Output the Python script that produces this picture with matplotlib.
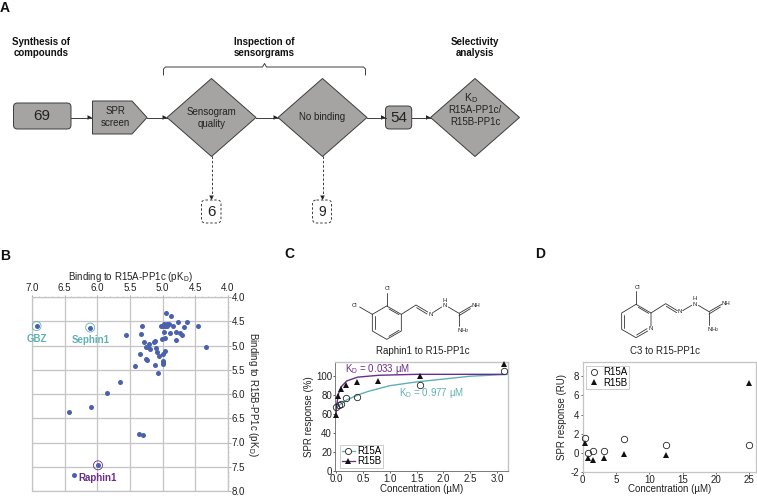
import matplotlib
matplotlib.use("Agg")
import matplotlib.pyplot as plt
from matplotlib.patches import Polygon, FancyBboxPatch
from matplotlib.lines import Line2D

plt.rcParams['font.family'] = ['Liberation Sans', 'DejaVu Sans']
plt.rcParams['mathtext.fontset'] = 'custom'
plt.rcParams['mathtext.rm'] = 'Liberation Sans'
plt.rcParams['mathtext.default'] = 'regular'

# ---- Data ----
b_r15a = [6.35, 6.43, 6.09, 5.85, 5.65, 5.36, 5.30, 5.56, 5.32, 5.33, 5.29, 5.21, 5.13, 5.12,
          5.26, 5.22, 5.19, 5.10, 5.09, 5.05, 5.35, 5.26, 5.24, 5.42, 5.11, 5.07, 4.99, 4.99,
          4.99, 4.99, 4.96, 4.95, 4.87, 4.76, 4.63, 4.46, 4.33, 4.68, 4.84, 5.03, 4.99, 4.98,
          4.93, 4.97, 4.94, 4.91, 4.98, 4.89, 4.80, 4.74, 4.71, 4.80, 5.01, 4.96]
b_r15b = [7.68, 6.37, 6.27, 5.98, 5.75, 6.83, 6.85, 4.79, 4.60, 4.77, 4.93, 4.96, 4.93, 4.91,
          5.04, 5.04, 5.07, 5.05, 5.14, 5.22, 5.18, 5.27, 5.29, 5.42, 5.40, 5.57, 5.31, 5.34,
          5.38, 5.18, 5.11, 4.33, 4.40, 4.51, 4.52, 4.60, 5.04, 4.62, 4.60, 4.60, 4.60, 4.56,
          4.56, 4.60, 4.60, 4.56, 4.72, 4.75, 4.72, 4.74, 4.79, 4.89, 4.86, 4.85]
b_hi_names = ['GBZ', 'Sephin1', 'Raphin1']
b_hi_x = [6.93, 6.11, 5.99]
b_hi_y = [4.60, 4.63, 7.47]

c_a_x = [0.0, 0.05, 0.10, 0.195, 0.39, 1.56, 3.125]
c_a_y = [68, 70, 71, 77, 78, 91, 106]
c_b_x = [0.006, 0.03, 0.098, 0.195, 0.39, 0.78, 1.56, 3.125]
c_b_y = [59, 79, 87, 91, 94, 95, 100, 113]
c_fit_a_x = [0.0, 0.05, 0.1, 0.2, 0.4, 0.6, 0.8, 1.0, 1.5, 2.0, 2.5, 3.2]
c_fit_a_y = [66, 69, 71, 75, 80, 84, 87, 90, 94, 97, 100, 102]
c_fit_b_x = [0.0, 0.01, 0.02, 0.05, 0.1, 0.2, 0.4, 0.8, 1.5, 3.1]
c_fit_b_y = [60, 66, 72, 82, 89, 95, 99, 101, 102, 102]

d_a_x = [0.39, 0.78, 1.56, 3.125, 6.25, 12.5, 25]
d_a_y = [1.5, 0.0, 0.2, 0.2, 1.4, 0.75, 0.8]
d_b_x = [0.39, 0.78, 1.56, 3.125, 6.25, 12.5, 25]
d_b_y = [1.05, -0.6, -0.75, -0.6, -0.15, -0.3, 7.3]

W, H = 757, 496
GRAY = '#a5a4a2'
DARK = '#3c3c3c'
BLUE = '#4a62ac'
CYAN = '#5fb0b5'
PURPLE = '#6b2d8b'
GRID = '#c4c4c4'
FS = 7

fig = plt.figure(figsize=(W / 100, H / 100), dpi=100)


def px_axes(l, t, r, b):
    return fig.add_axes([l / W, 1 - b / H, (r - l) / W, (b - t) / H])


ov = fig.add_axes([0, 0, 1, 1], zorder=5)
ov.set_xlim(0, W)
ov.set_ylim(H, 0)
ov.axis('off')
ov.patch.set_alpha(0)

for s, x, y in [('A', 5, 8), ('B', 5, 256), ('C', 289, 254), ('D', 540, 254)]:
    ov.text(x, y, s, fontsize=10, fontweight='bold', ha='center', va='center', color='#111111')


def diamond(cx, cy=117.5):
    ov.add_patch(Polygon([(cx - 44.5, cy), (cx, cy - 39), (cx + 44.5, cy), (cx, cy + 39)],
                         fc=GRAY, ec=DARK, lw=0.7))


def rbox(x0, y0, x1, y1, text, fs, dashed=False):
    ov.add_patch(FancyBboxPatch((x0 + 3, y0 + 3), x1 - x0 - 6, y1 - y0 - 6,
                                boxstyle='round,pad=3,rounding_size=4',
                                fc='white' if dashed else GRAY, ec=DARK, lw=0.7,
                                ls=(0, (2.5, 2)) if dashed else '-'))
    ov.text((x0 + x1) / 2, (y0 + y1) / 2, text, fontsize=fs, ha='center', va='center', color='#222222')


def arrow(x0, y0, x1, y1, dashed=False):
    ov.plot([x0, x1], [y0, y1], color=DARK, lw=0.7, ls=(0, (2.5, 2)) if dashed else '-')
    if y0 == y1:
        pts = [(x1, y1), (x1 - 4.5, y1 - 2.3), (x1 - 4.5, y1 + 2.3)]
    else:
        pts = [(x1, y1), (x1 - 2.3, y1 - 4.5), (x1 + 2.3, y1 - 4.5)]
    ov.add_patch(Polygon(pts, fc='#222222', ec='none'))


rbox(13.5, 103, 71, 129, '69', 11)
ov.add_patch(Polygon([(92.5, 101), (132, 101), (147, 117.5), (132, 134), (92.5, 134)],
                     fc=GRAY, ec=DARK, lw=0.7))
ov.text(115.5, 117, 'SPR\nscreen', fontsize=FS, ha='center', va='center', color='#222222', linespacing=1.15)
diamond(211.5)
ov.text(211.5, 118, 'Sensogram\nquality', fontsize=FS, ha='center', va='center', color='#222222', linespacing=1.15)
diamond(322.5)
ov.text(322.5, 117, 'No binding', fontsize=FS, ha='center', va='center', color='#222222')
rbox(385.5, 106, 411.7, 129, '54', 11)
diamond(475)
ov.text(471, 98, 'K$_{D}$', fontsize=FS + 0.5, ha='center', va='center', color='#222222')
ov.text(475, 116, 'R15A-PP1c/\nR15B-PP1c', fontsize=FS, ha='center', va='center', color='#222222', linespacing=1.15)
rbox(201.5, 200, 221, 223, '6', 11, dashed=True)
rbox(312.5, 200, 331.5, 223, '9', 10, dashed=True)

arrow(71, 117.5, 92, 117.5)
arrow(147, 117.5, 167, 117.5)
arrow(256, 117.5, 278, 117.5)
arrow(367, 117.5, 385.5, 117.5)
arrow(412, 117.5, 430.5, 117.5)
arrow(211.5, 156, 211.5, 200, dashed=True)
arrow(322.5, 156, 322.5, 200, dashed=True)

for x, s in [(41.5, 'Synthesis of\ncompounds'), (264.5, 'Inspection of\nsensorgrams'), (475, 'Selectivity\nanalysis')]:
    ov.text(x, 47.5, s, fontsize=FS, fontweight='bold', ha='center', va='center', color='#111111', linespacing=1.2)

ov.plot([163.5, 163.5, 165.5, 262.5, 264.5, 266.5, 363.5, 365.5, 365.5],
        [75, 69, 67, 67, 63.5, 67, 67, 69, 75], color=DARK, lw=0.7)

# ---- Panel B ----
axb = px_axes(32, 297, 228, 491)
axb.set_xlim(7.0, 4.0)
axb.set_ylim(8.0, 4.0)
axb.xaxis.tick_top()
axb.yaxis.tick_right()
axb.xaxis.set_label_position('top')
axb.yaxis.set_label_position('right')
ticks_x = [7.0, 6.5, 6.0, 5.5, 5.0, 4.5, 4.0]
ticks_y = [4.0, 4.5, 5.0, 5.5, 6.0, 6.5, 7.0, 7.5, 8.0]
axb.set_xticks(ticks_x)
axb.set_yticks(ticks_y)
axb.set_xticklabels([f'{v:.1f}' for v in ticks_x], fontsize=FS)
axb.set_yticklabels([f'{v:.1f}' for v in ticks_y], fontsize=FS)
axb.set_xticks([4 + i * 0.1 for i in range(31)], minor=True)
axb.set_yticks([4 + i * 0.1 for i in range(41)], minor=True)
axb.tick_params(which='major', length=1.8, width=0.5, color='#888888', pad=0.8, colors='#222222')
axb.tick_params(which='minor', length=1.0, width=0.4, color='#999999')
axb.grid(True, which='major', color=GRID, lw=0.9)
axb.set_axisbelow(True)
for s in axb.spines.values():
    s.set_color(GRID)
    s.set_linewidth(0.9)
axb.set_xlabel('Binding to R15A-PP1c (pK$_{D}$)', fontsize=FS, labelpad=2.5, color='#222222')
axb.set_ylabel('Binding to R15B-PP1c (pK$_{D}$)', fontsize=FS, rotation=270, labelpad=11, color='#222222')
axb.scatter(b_r15a, b_r15b, s=13, color=BLUE, lw=0, zorder=3, clip_on=False)
axb.scatter(b_hi_x, b_hi_y, s=13, color=BLUE, lw=0, zorder=3)
for x, y, c in zip(b_hi_x, b_hi_y, [CYAN, CYAN, PURPLE]):
    axb.scatter([x], [y], s=42, facecolor='none', edgecolor=c, lw=0.6, zorder=3)
for name, x, y, c in zip(b_hi_names, [37, 91, 98], [339.5, 340, 478], [CYAN, CYAN, PURPLE]):
    ov.text(x, y, name, fontsize=FS, fontweight='bold', color=c, ha='center', va='center')

# ---- Panel C ----
axc = px_axes(335.3, 362, 508, 471)
axc.set_xlim(-0.012, 3.2)
axc.set_ylim(0, 115)
axc.plot(c_fit_a_x, c_fit_a_y, color=CYAN, lw=1.0, zorder=2)
axc.plot(c_fit_b_x, c_fit_b_y, color=PURPLE, lw=1.0, zorder=2)
axc.plot(c_a_x, c_a_y, ls='none', marker='o', ms=4.6, mfc='none', mec='#222222', mew=0.6, zorder=4, clip_on=False)
axc.plot(c_b_x, c_b_y, ls='none', marker='^', ms=3.8, color='#111111', mew=0, zorder=3, clip_on=False)
axc.set_xticks([0, 0.5, 1, 1.5, 2, 2.5, 3])
axc.set_xticklabels(['0.0', '0.5', '1.0', '1.5', '2.0', '2.5', '3.0'], fontsize=FS)
axc.set_yticks([0, 20, 40, 60, 80, 100])
axc.tick_params(axis='both', labelsize=FS, length=1.6, width=0.5, pad=0.8, colors='#222222')
axc.set_xlabel('Concentration (µM)', fontsize=FS, labelpad=-0.6, color='#222222')
axc.set_ylabel('SPR response (%)', fontsize=FS, labelpad=1.5, color='#222222')
for k, s in axc.spines.items():
    s.set_color(GRID if k in ('top', 'right') else '#666666')
    s.set_linewidth(1.0 if k in ('top', 'right') else 0.6)
axc.text(0.17, 108, 'K$_{D}$ = 0.033 µM', fontsize=FS, color=PURPLE, ha='left', va='center')
axc.text(1.18, 82, 'K$_{D}$ = 0.977 µM', fontsize=FS, color=CYAN, ha='left', va='center')
handles = [Line2D([], [], color=CYAN, lw=0.9, marker='o', ms=4.4, mfc='white', mec='#222222', mew=0.6),
           Line2D([], [], color=PURPLE, lw=0.9, marker='^', ms=3.8, mfc='#111111', mec='#111111', mew=0)]
axc.legend(handles, ['R15A', 'R15B'], fontsize=FS, loc='lower left', bbox_to_anchor=(0.01, 0.0),
           borderaxespad=0.35, borderpad=0.12, labelspacing=0.05, handlelength=1.35, handletextpad=0.3,
           fancybox=False, edgecolor=GRID, framealpha=1).get_frame().set_linewidth(0.6)

# ---- Panel D ----
axd = px_axes(582.7, 361.7, 755.7, 471.7)
axd.set_xlim(0, 25.95)
axd.set_ylim(-2, 9.54)
axd.plot(d_a_x, d_a_y, ls='none', marker='o', ms=4.6, mfc='none', mec='#222222', mew=0.6, zorder=4, clip_on=False)
axd.plot(d_b_x, d_b_y, ls='none', marker='^', ms=3.8, color='#111111', mew=0, zorder=3, clip_on=False)
axd.set_xticks([0, 5, 10, 15, 20, 25])
axd.set_yticks([-2, 0, 2, 4, 6, 8])
axd.set_yticklabels(['-2', '0', '2', '4', '6', '8'])
axd.tick_params(axis='both', labelsize=FS, length=1.6, width=0.5, pad=0.8, colors='#222222')
axd.set_xlabel('Concentration (µM)', fontsize=FS, labelpad=-0.6, color='#222222')
axd.set_ylabel('SPR response (RU)', fontsize=FS, labelpad=2.5, color='#222222')
for k, s in axd.spines.items():
    s.set_color(GRID)
    s.set_linewidth(0.9)
handles_d = [Line2D([], [], ls='none', marker='o', ms=4.4, mfc='none', mec='#222222', mew=0.6),
             Line2D([], [], ls='none', marker='^', ms=3.8, color='#111111', mew=0)]
axd.legend(handles_d, ['R15A', 'R15B'], fontsize=FS, loc='upper left', bbox_to_anchor=(0.0, 0.99),
           borderaxespad=0.35, borderpad=0.12, labelspacing=0.05, handlelength=1.35, handletextpad=0.3,
           fancybox=False, edgecolor=GRID, framealpha=1).get_frame().set_linewidth(0.6)


# ---- Structures ----
def seg(ox, oy, pts, lw=0.6, color='#333333'):
    ov.plot([ox + p[0] / 3 for p in pts], [oy + p[1] / 3 for p in pts], color=color, lw=lw,
            solid_capstyle='round')


def lab(ox, oy, x, y, s, fs=4.3):
    ov.text(ox + x / 3, oy + y / 3, s, fontsize=fs, ha='center', va='center', color='#222222')


ox, oy = 285, 245
seg(ox, oy, [(262, 208), (305, 183), (349, 208), (349, 258), (305, 283), (262, 258), (262, 208)])
seg(ox, oy, [(270, 213), (270, 253)])
seg(ox, oy, [(312, 192), (342, 209)])
seg(ox, oy, [(312, 274), (342, 256)])
seg(ox, oy, [(305, 183), (305, 143)])
seg(ox, oy, [(262, 208), (224, 186)])
seg(ox, oy, [(349, 208), (393, 180), (428, 201)])
seg(ox, oy, [(395, 188), (426, 207)])
seg(ox, oy, [(445, 202), (470, 186)])
seg(ox, oy, [(490, 186), (522, 205), (560, 183)])
seg(ox, oy, [(522, 212), (556, 191)])
seg(ox, oy, [(522, 205), (522, 243)])
lab(ox, oy, 307, 131, 'Cl')
lab(ox, oy, 210, 181, 'Cl')
lab(ox, oy, 437, 207, 'N')
lab(ox, oy, 480, 182, 'N')
lab(ox, oy, 480, 166, 'H')
lab(ox, oy, 574, 181, 'NH')
lab(ox, oy, 535, 258, 'NH$_{2}$')

ox, oy = 525, 245
seg(ox, oy, [(333, 178), (378, 204), (378, 243)])
seg(ox, oy, [(368, 258), (333, 278), (290, 253), (290, 204), (333, 178)])
seg(ox, oy, [(298, 209), (298, 249)])
seg(ox, oy, [(340, 187), (371, 205)])
seg(ox, oy, [(335, 270), (366, 251)])
seg(ox, oy, [(333, 178), (333, 138)])
seg(ox, oy, [(378, 204), (422, 176), (457, 197)])
seg(ox, oy, [(424, 184), (455, 203)])
seg(ox, oy, [(473, 197), (500, 181)])
seg(ox, oy, [(520, 181), (552, 200), (590, 178)])
seg(ox, oy, [(552, 207), (586, 186)])
seg(ox, oy, [(552, 200), (552, 240)])
lab(ox, oy, 337, 127, 'Cl')
lab(ox, oy, 378, 252, 'N')
lab(ox, oy, 465, 200, 'N')
lab(ox, oy, 510, 178, 'N')
lab(ox, oy, 510, 161, 'H')
lab(ox, oy, 604, 176, 'NH')
lab(ox, oy, 564, 255, 'NH$_{2}$')

ov.text(422.5, 350.5, 'Raphin1 to R15-PP1c', fontsize=FS, ha='center', va='center', color='#222222')
ov.text(665, 351, 'C3 to R15-PP1c', fontsize=FS, ha='center', va='center', color='#222222')

fig.savefig('out.png', dpi=100)
